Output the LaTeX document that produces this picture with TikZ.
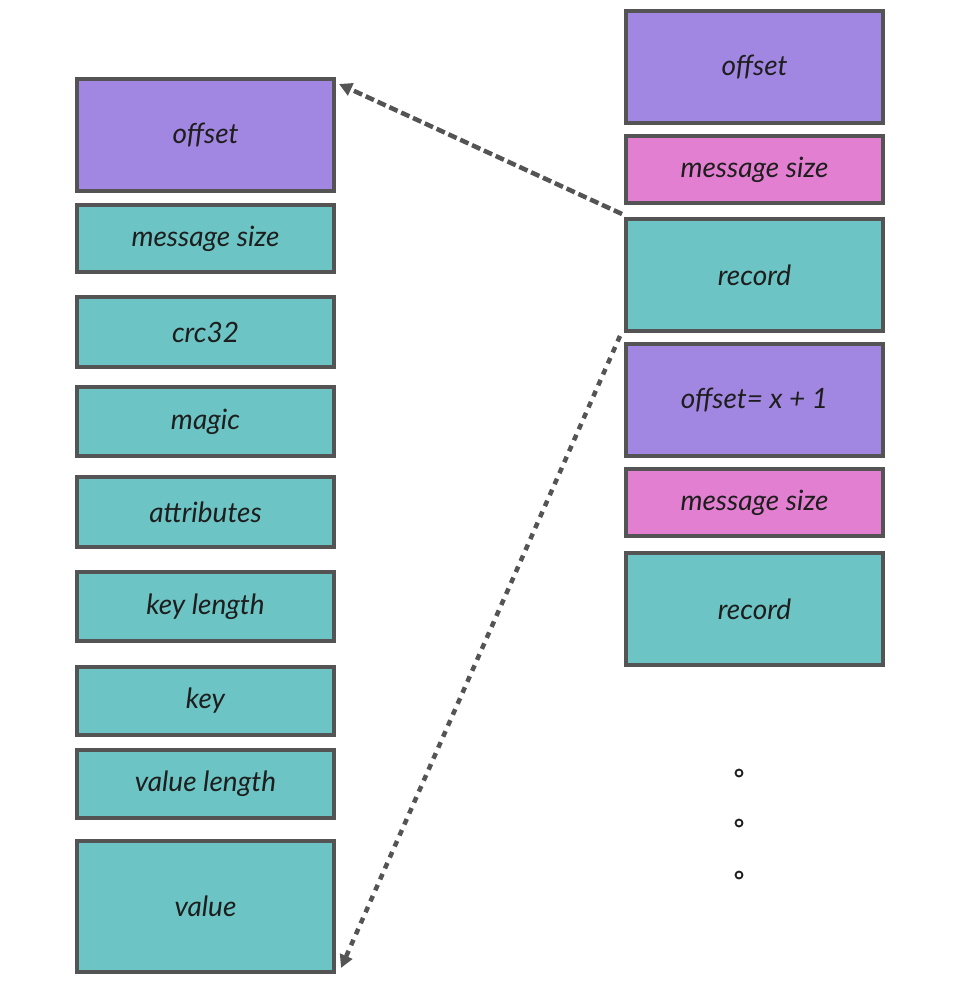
\documentclass[tikz,border=0pt]{standalone}
\usepackage{fontspec}
\setmainfont{Lato}
\usetikzlibrary{arrows.meta,calc}
\definecolor{cpurple}{HTML}{A287E2}
\definecolor{cteal}{HTML}{6CC4C4}
\definecolor{cpink}{HTML}{E37FD1}
\definecolor{cline}{HTML}{545454}
\definecolor{ctext}{HTML}{1E1E1E}
\tikzset{
  field/.style={draw=cline, line width=4pt, rectangle, inner sep=0pt,
    minimum width=257pt, text=ctext,
    font=\fontsize{28}{32}\selectfont\itshape},
  fpurple/.style={field, fill=cpurple},
  fteal/.style={field, fill=cteal},
  fpink/.style={field, fill=cpink},
  link/.style={draw=cline, line width=4.5pt, -{Triangle[length=13pt,width=13pt]}},
  dotmark/.style={circle, draw=ctext, line width=1.8pt, minimum size=7pt, inner sep=0pt}
}
\begin{document}
\begin{tikzpicture}[x=1pt,y=-1pt]
\useasboundingbox (0,0) rectangle (954,1000);
% left column
\node[fpurple, minimum height=112pt] (loff)   at (205.5,135)   {offset};
\node[fteal,   minimum height=67pt]  (lms)    at (205.5,238.5) {message size};
\node[fteal,   minimum height=70pt]  (crc)    at (205.5,332)   {crc32};
\node[fteal,   minimum height=69pt]  (magic)  at (205.5,421.5) {magic};
\node[fteal,   minimum height=70pt]  (attr)   at (205.5,512)   {attributes};
\node[fteal,   minimum height=69pt]  (keylen) at (205.5,606.5) {key length};
\node[fteal,   minimum height=68pt]  (key)    at (205.5,701)   {key};
\node[fteal,   minimum height=68pt]  (vallen) at (205.5,784)   {value length};
\node[fteal,   minimum height=131pt] (value)  at (205.5,906.5) {value};
% right column
\node[fpurple, minimum height=112pt] (roff)   at (754.5,67)    {offset};
\node[fpink,   minimum height=67pt]  (rms)    at (754.5,169.5) {message size};
\node[fteal,   minimum height=112pt] (rrec)   at (754.5,275)   {record};
\node[fpurple, minimum height=112pt] (roff2)  at (754.5,400)   {offset= x + 1};
\node[fpink,   minimum height=67pt]  (rms2)   at (754.5,502.5) {message size};
\node[fteal,   minimum height=112pt] (rrec2)  at (754.5,609)   {record};
% ellipsis dots
\node[dotmark] (d1) at (739,773) {};
\node[dotmark] (d2) at (739,823) {};
\node[dotmark] (d3) at (739,875) {};
% connectors
\draw[link, dash pattern=on 9pt off 4pt]
  ($(rrec.north west)+(-2,-3)$) -- ($(loff.north east)+(3,7)$);
\draw[link, dash pattern=on 6pt off 6pt]
  ($(rrec.south west)+(-4,3)$) -- ($(value.south east)+(5,-6)$);
\end{tikzpicture}
\end{document}
